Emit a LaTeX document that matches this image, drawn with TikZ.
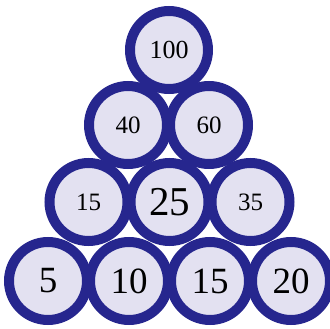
\documentclass[tikz,border=0pt]{standalone}
\usepackage{fontspec}
\setmainfont{Liberation Serif}
\usepackage{tikz}
\definecolor{ringblue}{RGB}{38,38,142}
\definecolor{discfill}{RGB}{227,225,241}

\begin{document}
\begin{tikzpicture}[
    x=1pt, y=-1pt,
    disc/.style={circle, draw=ringblue, fill=discfill, line width=10pt, minimum size=78pt, inner sep=0pt},
    big/.style={font=\fontsize{37}{37}\selectfont},
    small/.style={font=\fontsize{25}{25}\selectfont}
]
    \useasboundingbox (0,0) rectangle (330,329);

    % bottom row
    \node[disc, big] (a1) at (48,281) {5};
    \node[disc, big] (a2) at (129,281) {10};
    \node[disc, big] (a3) at (210,281) {15};
    \node[disc, big] (a4) at (291,281) {20};

    % third row
    \node[disc, small] (b1) at (88.5,202) {15};
    \node[disc, big, font=\fontsize{41}{41}\selectfont] (b2) at (169.5,202) {25};
    \node[disc, small] (b3) at (250.5,202) {35};

    % second row
    \node[disc, small] (c1) at (128,125) {40};
    \node[disc, small] (c2) at (209,125) {60};

    % top
    \node[disc, small, font=\fontsize{26}{26}\selectfont] (d1) at (169,50) {100};
\end{tikzpicture}
\end{document}
